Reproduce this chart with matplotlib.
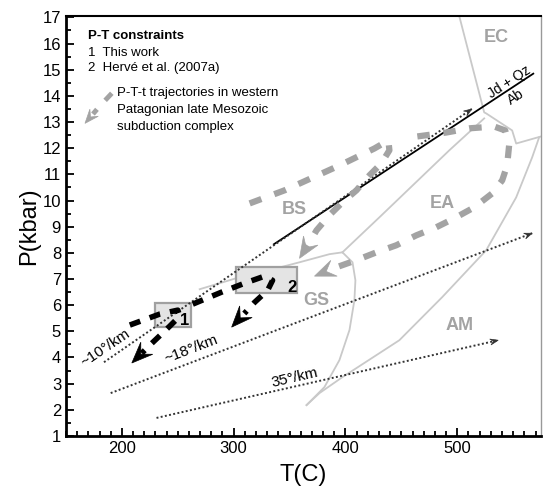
import matplotlib
matplotlib.use('Agg')
import matplotlib.pyplot as plt
import numpy as np
from matplotlib.ticker import MultipleLocator
from matplotlib.patches import Rectangle, Polygon

plt.rcParams['font.family'] = ['Liberation Sans', 'DejaVu Sans']

# geothermal gradients (dotted), T in C, P in kbar
grad_10_T = [184, 513]
grad_10_P = [3.82, 13.5]
grad_18_T = [190, 567]
grad_18_P = [2.64, 8.75]
grad_35_T = [231, 536.6]
grad_35_P = [1.69, 4.66]

# Jd + Qz = Ab reaction
jd_T = [336, 568]
jd_P = [8.33, 14.85]

# facies boundaries
ec_T = [501.8, 524.1, 525.9, 549.1, 552.7, 575]
ec_P = [17.05, 13.37, 13.33, 12.68, 12.18, 12.45]
ea_am_T = [573.2, 567, 552.7, 525.9, 486.6, 448.2, 410, 397.3, 376.8, 365.2]
ea_am_P = [12.41, 11.65, 10.12, 8.10, 6.31, 4.66, 3.6, 3.25, 2.64, 2.18]
bs_ea_T = [524.1, 492.9, 430.4, 397.3]
bs_ea_P = [13.14, 11.92, 9.36, 8.02]
gs_T = [397.3, 406.3, 408.9, 408.0, 403.6, 394.6, 381.2, 365.2]
gs_P = [8.02, 7.64, 6.95, 6.19, 5.05, 3.90, 2.87, 2.18]
bs_gs_T = [397.3, 385.7, 358.9, 332.1, 305.4, 269.6]
bs_gs_P = [8.02, 7.95, 7.64, 7.34, 7.07, 6.61]

# P-T constraint boxes: (Tmin, Tmax, Pmin, Pmax)
box1 = (230, 262, 5.15, 6.1)
box2 = (302, 357, 6.46, 7.45)

# black P-T paths
path1_T = [207.1, 233.9, 250.0, 251.8, 242.9, 225.0, 208.9]
path1_P = [5.24, 5.66, 5.81, 5.58, 5.20, 4.47, 3.79]
path2_T = [263.4, 289.3, 309.8, 327.7, 334.8, 330.4, 318.75, 298.2]
path2_P = [6.04, 6.50, 6.84, 7.11, 6.95, 6.57, 6.11, 5.16]

# gray P-T-t trajectories
g1_T = [314.3, 345.5, 394.6, 425.9, 438.4, 439.3, 432.1, 421.4, 409.8, 397.3, 385.7, 374.1, 367.9, 358.9]
g1_P = [9.89, 10.39, 11.34, 11.99, 12.30, 11.92, 11.42, 10.96, 10.39, 9.93, 9.44, 8.86, 8.40, 7.79]
g2_T = [464.3, 490.2, 510.7, 533, 542.9, 546.4, 544.6, 540.2, 531.2, 515.2, 497.3, 481.3,
        463.4, 445.5, 427.7, 409.8, 392, 372.3]
g2_P = [12.45, 12.60, 12.76, 12.83, 12.68, 12.11, 11.34, 10.77, 10.27, 9.74, 9.32, 8.98,
        8.67, 8.29, 8.02, 7.72, 7.45, 7.11]
legend_arrow_T = [191, 180, 167]
legend_arrow_P = [14.1, 13.6, 12.95]

facies = ['EC', 'BS', 'EA', 'GS', 'AM']
facies_T = [534.8, 354.5, 486.6, 374.1, 501.8]
facies_P = [16.23, 9.66, 9.89, 6.19, 5.24]

fig = plt.figure(figsize=(5.43, 4.88), dpi=100)
ax = fig.add_axes([0.1215, 0.1066, 0.875, 0.8604])
ax.set_xlim(150, 575)
ax.set_ylim(1, 17.05)

light = '#c9c9c9'
mid = '#a3a3a3'


def arrow_head(tip, back, color, length, width):
    # notched arrowhead drawn in pixel space, then mapped back to data
    tr = ax.transData
    t = tr.transform(tip)
    b = tr.transform(back)
    d = (t - b) / np.hypot(*(t - b))
    n = np.array([-d[1], d[0]])
    base = t - d * length
    pts = [t, base + n * width / 2, t - d * length * 0.6, base - n * width / 2]
    pts = tr.inverted().transform(np.array(pts))
    ax.add_patch(Polygon(pts, closed=True, facecolor=color, edgecolor=color, lw=0.5, zorder=6))


def dashed_path(T, P, color, lw, dash, length, width):
    f = 0.45
    endT = T[-2] + (T[-1] - T[-2]) * f
    endP = P[-2] + (P[-1] - P[-2]) * f
    ax.plot(list(T[:-1]) + [endT], list(P[:-1]) + [endP], color=color, lw=lw, dashes=dash,
            dash_capstyle='butt', zorder=5)
    arrow_head((T[-1], P[-1]), (T[-2], P[-2]), color, length, width)


def dotted_arrow(T, P):
    ax.plot(T, P, color='#333333', lw=1.4, ls=(0, (1, 1.2)), zorder=3)
    arrow_head((T[1], P[1]), (T[0], P[0]), '#333333', 8, 6)


# facies boundaries
for T, P in [(ec_T, ec_P), (ea_am_T, ea_am_P), (bs_ea_T, bs_ea_P), (gs_T, gs_P), (bs_gs_T, bs_gs_P)]:
    ax.plot(T, P, color=light, lw=1.3, zorder=1)

for name, t, p in zip(facies, facies_T, facies_P):
    ax.text(t, p, name, color=mid, fontsize=13, fontweight='bold', ha='center', va='center', zorder=2)

# boxes
for b, lab, lt, lp in [(box1, '1', 256, 5.43), (box2, '2', 352, 6.69)]:
    ax.add_patch(Rectangle((b[0], b[2]), b[1] - b[0], b[3] - b[2], facecolor='#e4e4e4',
                           edgecolor='#a0a0a0', lw=1.6, zorder=2))
    ax.text(lt, lp, lab, fontsize=12, fontweight='bold', ha='center', va='center', zorder=7)

# reaction and gradients
ax.plot(jd_T, jd_P, color='black', lw=1.3, zorder=3)
ax.text(546.4, 14.51, 'Jd + Qz', fontsize=10, rotation=33, ha='center', va='center')
ax.text(552.7, 13.94, 'Ab', fontsize=10, rotation=33, ha='center', va='center')

dotted_arrow(grad_10_T, grad_10_P)
dotted_arrow(grad_18_T, grad_18_P)
dotted_arrow(grad_35_T, grad_35_P)
ax.text(185.7, 4.36, '~10°/km', fontsize=11, rotation=34, ha='center', va='center')
ax.text(261.6, 4.32, '~18°/km', fontsize=11, rotation=21, ha='center', va='center')
ax.text(354.5, 3.21, '35°/km', fontsize=11, rotation=13, ha='center', va='center')

# trajectories
dashed_path(g1_T, g1_P, mid, 4.5, (2, 2.2), 21, 17)
dashed_path(g2_T, g2_P, mid, 4.5, (2, 2.2), 21, 17)
dashed_path(path1_T, path1_P, 'black', 4, (2, 1.8), 21, 17)
dashed_path(path2_T, path2_P, 'black', 4, (2, 1.8), 21, 17)
dashed_path(legend_arrow_T, legend_arrow_P, mid, 3.5, (2, 2.5), 14, 11)

# legend text
ax.text(170, 16.3, 'P-T constraints', fontsize=9.5, fontweight='bold', va='center')
ax.text(170, 15.65, '1  This work', fontsize=9.5, va='center')
ax.text(170, 15.05, '2  Hervé et al. (2007a)', fontsize=9.5, va='center')
ax.text(196, 14.1, 'P-T-t trajectories in western', fontsize=9.5, va='center')
ax.text(196, 13.45, 'Patagonian late Mesozoic', fontsize=9.5, va='center')
ax.text(196, 12.8, 'subduction complex', fontsize=9.5, va='center')

ax.xaxis.set_major_locator(MultipleLocator(100))
ax.xaxis.set_minor_locator(MultipleLocator(10))
ax.yaxis.set_major_locator(MultipleLocator(1))
ax.yaxis.set_minor_locator(MultipleLocator(0.5))
ax.tick_params(which='both', direction='in', width=1.3, labelsize=12)
ax.tick_params(which='major', length=6)
ax.tick_params(which='minor', length=3.5)
ax.tick_params(top=False, right=False, which='both')
for s in ['left', 'bottom']:
    ax.spines[s].set_linewidth(2)
ax.spines['top'].set_linewidth(1.5)
ax.spines['right'].set_linewidth(1)
ax.spines['right'].set_color('#999999')

ax.set_xlabel('T(C)', fontsize=17, labelpad=6)
ax.set_ylabel('P(kbar)', fontsize=17, labelpad=2)

fig.savefig('out.png', dpi=100)
